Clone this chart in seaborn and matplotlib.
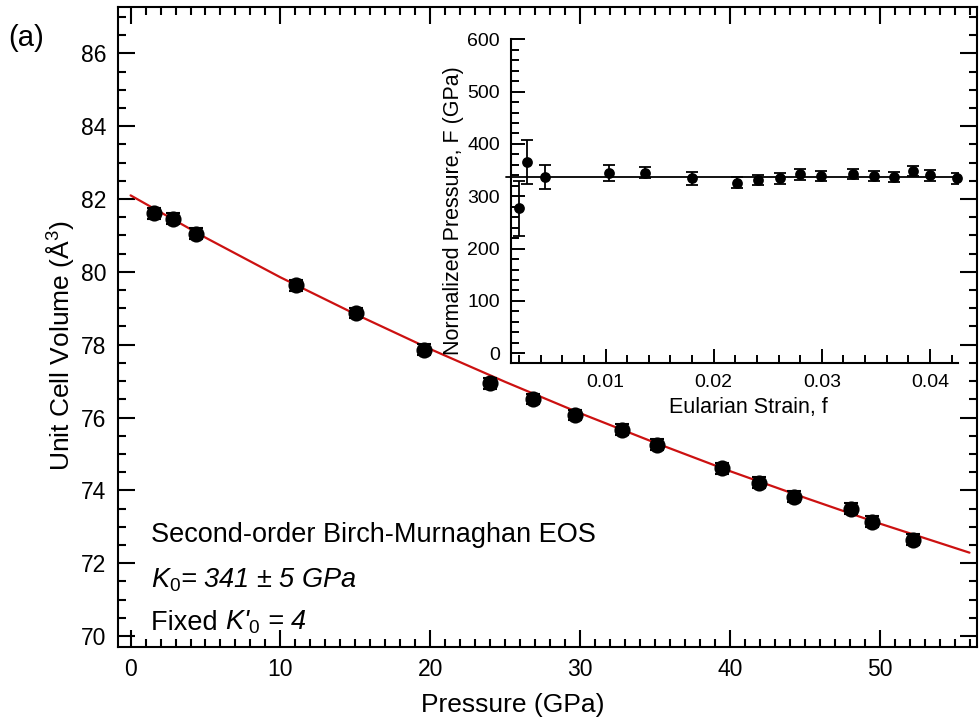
import numpy as np
import pandas as pd
import matplotlib
matplotlib.use("Agg")
import matplotlib.pyplot as plt
from matplotlib.ticker import MultipleLocator, FuncFormatter
from matplotlib.transforms import blended_transform_factory, IdentityTransform
import seaborn as sns

# ---------------- data ----------------
pressure = [1.57, 2.82, 4.35, 11.04, 15.04, 19.60, 23.97, 26.87, 29.69,
            32.77, 35.15, 39.49, 41.94, 44.28, 48.11, 49.51, 52.23]
volume = [81.61, 81.46, 81.05, 79.63, 78.87, 77.86, 76.94, 76.51, 76.07,
          75.66, 75.25, 74.61, 74.21, 73.82, 73.50, 73.14, 72.64]
volume_err = [0.15, 0.15, 0.15, 0.15, 0.15, 0.15, 0.15, 0.15, 0.15,
              0.15, 0.15, 0.15, 0.15, 0.15, 0.15, 0.15, 0.15]

fit_pressure = [0, 5, 10, 15, 20, 25, 30, 35, 40, 45, 50, 56]
fit_volume = [82.10, 80.94, 79.85, 78.84, 77.88, 76.98, 76.12, 75.31,
              74.53, 73.80, 73.09, 72.29]

strain = [0.0020, 0.0027, 0.0044, 0.0103, 0.0136, 0.0180, 0.0222, 0.0241,
          0.0261, 0.0280, 0.0299, 0.0329, 0.0348, 0.0367, 0.0384, 0.0400, 0.0425]
norm_pressure = [277, 366, 337, 345, 345, 334, 326, 331, 334, 342, 339,
                 343, 339, 337, 348, 340, 334]
norm_err = [53, 42, 23, 15, 11, 12, 10, 10, 10, 10, 10, 10, 10, 10, 10, 10, 10]
F_fit = 337

main_df = pd.DataFrame({"P": pressure, "V": volume})
fit_df = pd.DataFrame({"P": fit_pressure, "V": fit_volume})
inset_df = pd.DataFrame({"f": strain, "F": norm_pressure})

# ---------------- style ----------------
sns.set_theme(style="white")
plt.rcParams["font.family"] = ["Liberation Sans", "DejaVu Sans"]
plt.rcParams["mathtext.fontset"] = "custom"
plt.rcParams["mathtext.rm"] = "Liberation Sans"
plt.rcParams["mathtext.it"] = "Liberation Sans:italic"
plt.rcParams["mathtext.bf"] = "Liberation Sans:bold"
for key in ["text.color", "axes.labelcolor", "xtick.color", "ytick.color"]:
    plt.rcParams[key] = "black"

fig = plt.figure(figsize=(9.8, 7.27), dpi=100)
ax = fig.add_axes([117.7 / 980, 1 - 647 / 727, (977 - 117.7) / 980, (647 - 6.7) / 727])

# fit line
sns.lineplot(data=fit_df, x="P", y="V", ax=ax, color="#cc1111", lw=1.6,
             sort=False, zorder=2)
# error bars + points
ax.errorbar(pressure, volume, yerr=volume_err, fmt="none", ecolor="black",
            elinewidth=1.5, capsize=5, capthick=1.5, zorder=3)
sns.scatterplot(data=main_df, x="P", y="V", ax=ax, color="black", s=135,
                edgecolor="black", linewidth=0, zorder=4)

ax.set_xlim(-0.86, 56.5)
ax.set_ylim(69.7, 87.28)
ax.xaxis.set_major_locator(MultipleLocator(10))
ax.xaxis.set_minor_locator(MultipleLocator(1))
ax.yaxis.set_major_locator(MultipleLocator(2))
ax.yaxis.set_minor_locator(MultipleLocator(0.5))
ax.tick_params(which="both", direction="in", top=True, right=True,
               bottom=True, left=True, width=1.5, colors="black", labelsize=16.5)
ax.tick_params(which="major", length=12, pad=8)
ax.tick_params(which="minor", length=6)
for s in ax.spines.values():
    s.set_linewidth(1.5)
    s.set_color("black")
ax.set_xlabel("Pressure (GPa)", fontsize=19)
ax.set_ylabel("Unit Cell Volume (Å$^{3}$)", fontsize=19)
ax.xaxis.set_label_coords((513 - 117.7) / 859.3, -0.072)
ax.yaxis.set_label_coords(-0.048, 0.47)

x0 = (150.7 - 117.7) / 859.3
ax.text(x0, (647 - 535) / 640.3, "Second-order Birch-Murnaghan EOS",
        transform=ax.transAxes, fontsize=19.5, ha="left", va="center")
ax.text(x0, (647 - 580) / 640.3, r"$\mathit{K_0}$= 341 ± 5 GPa",
        transform=ax.transAxes, fontsize=19.5, fontstyle="italic",
        ha="left", va="center")
y3 = (647 - 630) / 640.3
t_fixed = ax.text(x0, y3, "Fixed ", transform=ax.transAxes,
                  fontsize=19.5, ha="left", va="baseline")
fig.canvas.draw()
bb = t_fixed.get_window_extent(renderer=fig.canvas.get_renderer())
ax.text(bb.x1, y3, r"K'$_{\mathit{0}}$ = 4",
        transform=blended_transform_factory(IdentityTransform(), ax.transAxes),
        fontsize=19.5, fontstyle="italic", ha="left", va="baseline")

fig.text(8 / 980, 1 - 38 / 727, "(a)", fontsize=21, ha="left", va="center")

# ---------------- inset ----------------
ax_in = fig.add_axes([511 / 980, 1 - 362.7 / 727, (958 - 511) / 980, (362.7 - 39.3) / 727])
ax_in.set_facecolor("none")
ax_in.axhline(F_fit, xmin=-0.012, xmax=1.0, color="black", lw=1.3,
              clip_on=False, zorder=2)
ax_in.errorbar(strain, norm_pressure, yerr=norm_err, fmt="none", ecolor="black",
               elinewidth=1.3, capsize=4.5, capthick=1.3, zorder=3)
sns.scatterplot(data=inset_df, x="f", y="F", ax=ax_in, color="black", s=60,
                linewidth=0, zorder=4, clip_on=False)
ax_in.set_xlim(0.00125, 0.0426)
ax_in.set_ylim(-18, 600)
ax_in.xaxis.set_major_locator(MultipleLocator(0.01))
ax_in.xaxis.set_minor_locator(MultipleLocator(0.002))
ax_in.yaxis.set_major_locator(MultipleLocator(100))
ax_in.yaxis.set_minor_locator(MultipleLocator(20))
ax_in.xaxis.set_major_formatter(FuncFormatter(lambda v, p: f"{v:g}"))
ax_in.tick_params(which="both", direction="in", bottom=True, left=True,
                  width=1.4, colors="black", labelsize=14)
ax_in.tick_params(which="major", length=10, pad=8)
ax_in.tick_params(which="minor", length=5.5)
for k in ["top", "right"]:
    ax_in.spines[k].set_visible(False)
for k in ["left", "bottom"]:
    ax_in.spines[k].set_linewidth(1.5)
    ax_in.spines[k].set_color("black")
ax_in.set_xlabel("Eularian Strain, f", fontsize=15.5)
ax_in.set_ylabel("Normalized Pressure, F (GPa)", fontsize=15.5)
ax_in.xaxis.set_label_coords(0.53, -0.105)
ax_in.yaxis.set_label_coords(-0.105, 0.47)

fig.savefig("out.png", dpi=100, facecolor="white")
